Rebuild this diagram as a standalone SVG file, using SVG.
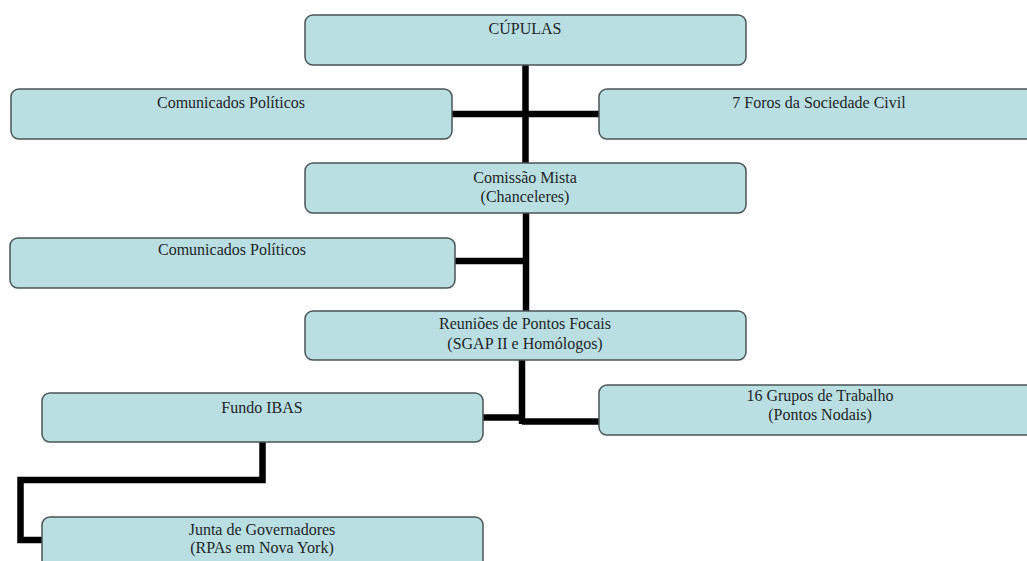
<svg xmlns="http://www.w3.org/2000/svg" width="1027" height="561" viewBox="0 0 1027 561">
<style>
.box{fill:#b9dfe2;stroke:#4a5456;stroke-width:1.5}
.t{font-family:"Liberation Serif","Times New Roman",serif;font-size:16px;fill:#1f2628;text-anchor:middle}
.c{fill:none;stroke:#000;stroke-width:6.5;stroke-linejoin:miter;stroke-linecap:butt}
</style>
<rect width="1027" height="561" fill="#fff"/>
<g id="connectors">
<path class="c" d="M525.5 65 V163"/>
<path class="c" d="M452 114 H599"/>
<path class="c" d="M526 213 V311"/>
<path class="c" d="M455 261 H529"/>
<path class="c" d="M522 360 V424"/>
<path class="c" d="M483 417.5 H522"/>
<path class="c" d="M522 421.5 H600"/>
<path class="c" d="M262.5 442 V480 H20.5 V540 H42"/>
</g>
<g id="cupulas">
<rect class="box" x="305" y="15" width="441" height="50" rx="8"/>
<text class="t" x="525" y="34">CÚPULAS</text>
</g>
<g id="comunicados1">
<rect class="box" x="11" y="89" width="441" height="50" rx="8"/>
<text class="t" x="231" y="108">Comunicados Políticos</text>
</g>
<g id="foros">
<rect class="box" x="599" y="89" width="440" height="50" rx="8"/>
<text class="t" x="819" y="108">7 Foros da Sociedade Civil</text>
</g>
<g id="comissao">
<rect class="box" x="305" y="163" width="441" height="50" rx="8"/>
<text class="t" x="525" y="183">Comissão Mista</text>
<text class="t" x="525" y="202">(Chanceleres)</text>
</g>
<g id="comunicados2">
<rect class="box" x="10" y="238" width="445" height="50" rx="8"/>
<text class="t" x="232" y="255">Comunicados Políticos</text>
</g>
<g id="reunioes">
<rect class="box" x="305" y="311" width="441" height="49" rx="8"/>
<text class="t" x="525" y="329">Reuniões de Pontos Focais</text>
<text class="t" x="525" y="349">(SGAP II e Homólogos)</text>
</g>
<g id="fundo">
<rect class="box" x="42" y="393" width="441" height="49" rx="8"/>
<text class="t" x="262" y="413">Fundo IBAS</text>
</g>
<g id="grupos">
<rect class="box" x="599" y="385" width="440" height="50" rx="8"/>
<text class="t" x="820" y="401">16 Grupos de Trabalho</text>
<text class="t" x="820" y="420">(Pontos Nodais)</text>
</g>
<g id="junta">
<rect class="box" x="42" y="517" width="441" height="60" rx="8"/>
<text class="t" x="262" y="535">Junta de Governadores</text>
<text class="t" x="262" y="553">(RPAs em Nova York)</text>
</g>
</svg>
